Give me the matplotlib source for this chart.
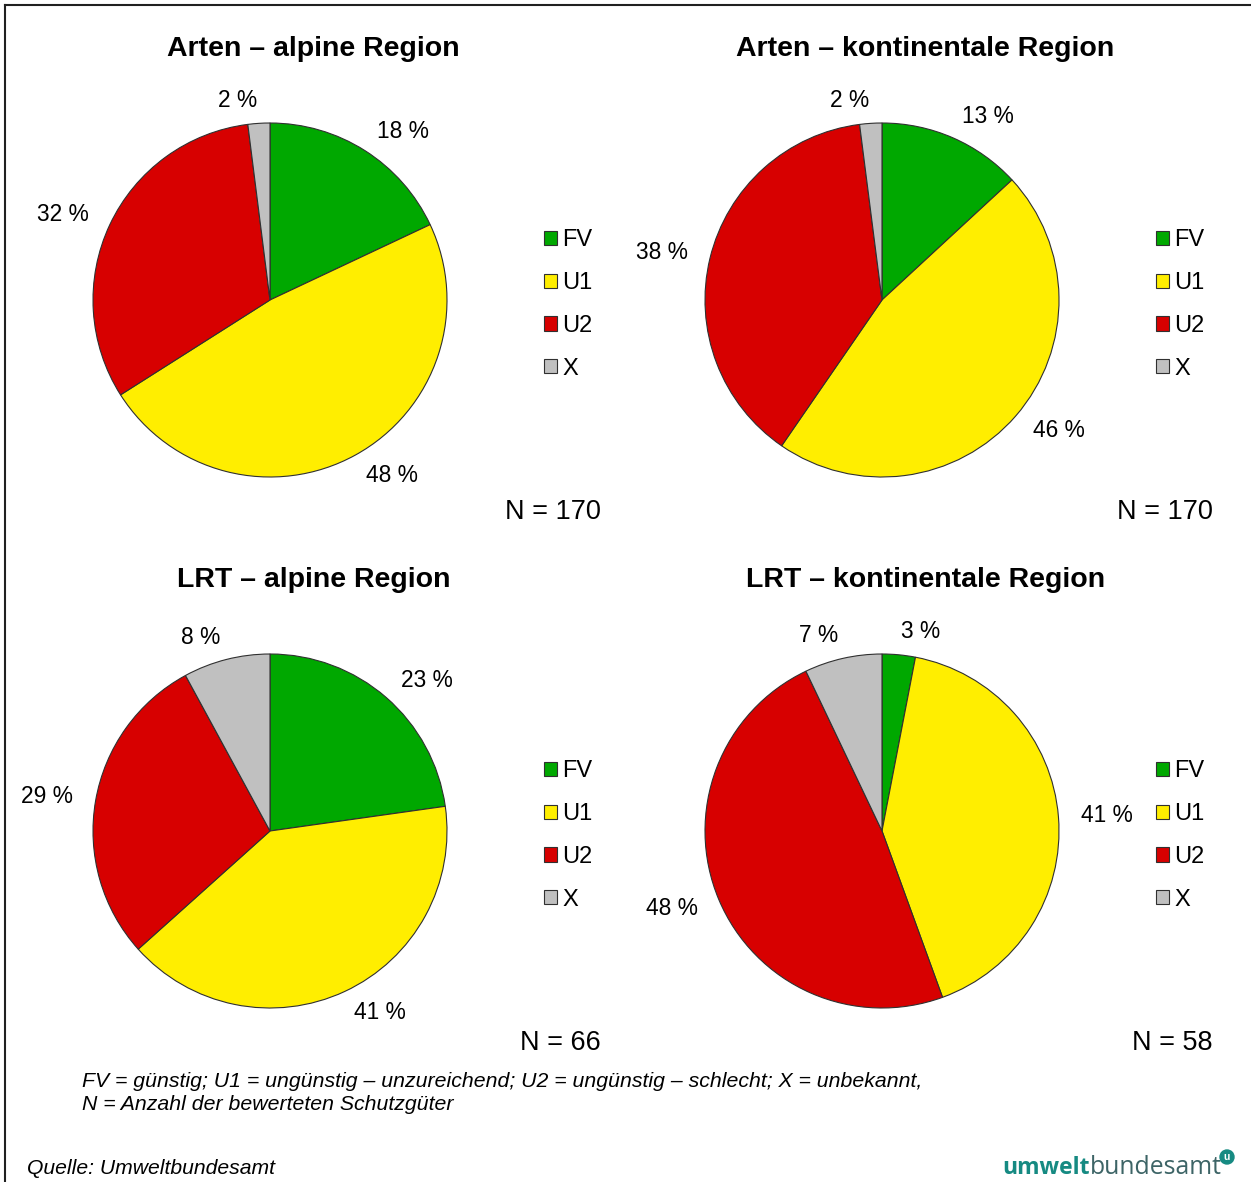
import matplotlib
matplotlib.use("Agg")
import matplotlib.pyplot as plt
from matplotlib.lines import Line2D
from matplotlib.patches import Circle

plt.rcParams["font.family"] = ["Liberation Sans", "DejaVu Sans"]

W, H = 1251, 1182
R_PX = 177          # pie radius in pixels
HALF = 300          # half size of each pie axes in pixels

categories = ["FV", "U1", "U2", "X"]
colors = ["#00a800", "#ffee00", "#d70000", "#c0c0c0"]

titles = ["Arten – alpine Region", "Arten – kontinentale Region",
          "LRT – alpine Region", "LRT – kontinentale Region"]
arten_alpin = [18, 48, 32, 2]
arten_kont = [13, 46, 38, 2]
lrt_alpin = [23, 41, 29, 8]
lrt_kont = [3, 41, 48, 7]
n_values = [170, 170, 66, 58]

footnote = ("FV = günstig; U1 = ungünstig – unzureichend; U2 = ungünstig – schlecht; X = unbekannt,\n"
            "N = Anzahl der bewerteten Schutzgüter")
source = "Quelle: Umweltbundesamt"

# pie centres in pixels (x, y from top)
centres = [(270, 300), (882, 300), (270, 831), (882, 831)]
series = [arten_alpin, arten_kont, lrt_alpin, lrt_kont]

fig = plt.figure(figsize=(W / 100, H / 100), dpi=100)


def px(x, y):
    return x / W, 1 - y / H


lim = HALF / R_PX
for (cx, cy), vals, title, n in zip(centres, series, titles, n_values):
    ax = fig.add_axes([(cx - HALF) / W, 1 - (cy + HALF) / H, 2 * HALF / W, 2 * HALF / H])
    wedges, _ = ax.pie(vals, colors=colors, labels=[f"{v} %" for v in vals],
                       startangle=90, counterclock=False, labeldistance=1.13,
                       wedgeprops=dict(edgecolor="#303030", linewidth=0.8),
                       textprops=dict(fontsize=16.4))
    ax.set_xlim(-lim, lim)
    ax.set_ylim(-lim, lim)
    ax.axis("off")
    ax.text(0.245, 1.42, title, ha="center", va="center", fontsize=20.5,
            fontweight="bold")
    ax.text(1.87, -1.2, f"N = {n}", ha="right", va="center", fontsize=19.5)
    leg = ax.legend(wedges, categories, loc="center left",
                    bbox_to_anchor=(1.55, -0.025), bbox_transform=ax.transData,
                    frameon=False, fontsize=17, handlelength=0.55,
                    handleheight=0.55, handletextpad=0.2, labelspacing=0.88,
                    borderpad=0, borderaxespad=0)
    for h in leg.legend_handles:
        h.set_edgecolor("#303030")
        h.set_linewidth(0.8)

fig.text(*px(82, 1093), footnote, ha="left", va="center", fontsize=15.3,
         style="italic", linespacing=1.22)
fig.text(*px(27, 1168), source, ha="left", va="center", fontsize=15.2,
         style="italic")

# logo
fig.text(*px(1090, 1168), "umwelt", ha="right", va="center", fontsize=16.5,
         fontweight="bold", color="#168a82", family="Open Sans")
fig.text(*px(1090, 1168), "bundesamt", ha="left", va="center", fontsize=17.8,
         color="#3d6466", family="Open Sans")
logo = fig.add_axes([0, 0, 1, 1], facecolor="none")
logo.set_xlim(0, W)
logo.set_ylim(H, 0)
logo.axis("off")
logo.add_patch(Circle((1227, 1157), 7, color="#168a82"))
logo.text(1227, 1156.5, "u", ha="center", va="center", fontsize=7.5,
          fontweight="bold", color="white")

# frame lines (top and left)
logo.add_line(Line2D([5, W], [5, 5], color="#202020", lw=1.5))
logo.add_line(Line2D([5, 5], [5, H], color="#202020", lw=1.5))

fig.savefig("out.png", dpi=100)
